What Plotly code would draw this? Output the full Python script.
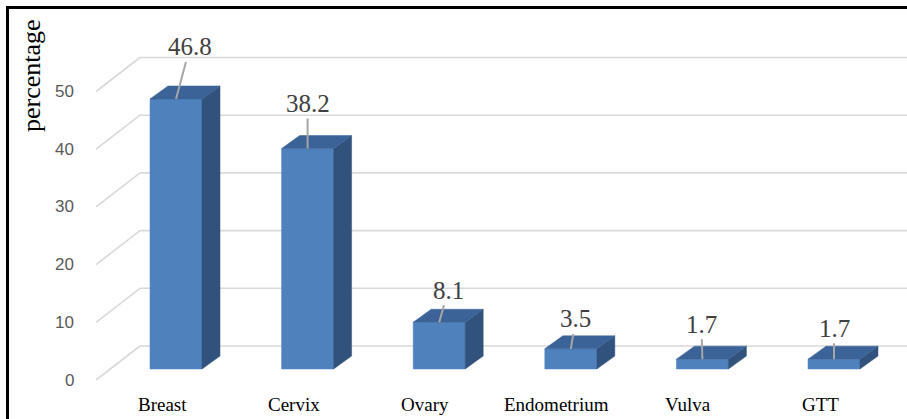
import plotly.graph_objects as go

# ---- data ----
categories = ["Breast", "Cervix", "Ovary", "Endometrium", "Vulva", "GTT"]
values = [46.8, 38.2, 8.1, 3.5, 1.7, 1.7]
y_ticks = [0, 10, 20, 30, 40, 50]
label_text = ["46.8", "38.2", "8.1", "3.5", "1.7", "1.7"]

# ---- style / geometry (pixel-derived) ----
W, H = 907, 419
px_per_unit_y = 5.77
px_per_cat = 131.6
zero_px = 369.0
first_cat_px = 176.0
x_range = [-first_cat_px / px_per_cat, (W - first_cat_px) / px_per_cat]
y_range = [-(H - zero_px) / px_per_unit_y, zero_px / px_per_unit_y]

bar_w = 52 / px_per_cat
depth_dx = 18 / px_per_cat
depth_dy = 13 / px_per_unit_y
wall_dx = (140 - 176) / px_per_cat   # back wall left edge
wall_dy = 23 / px_per_unit_y
front_dx = (96 - 176) / px_per_cat   # front-left floor edge
front_dy = -11 / px_per_unit_y
cat_label_dx = -14 / px_per_cat
cat_label_y = -(404 - zero_px) / px_per_unit_y

front_col = "#4f81bd"
top_col = "#3b6397"
side_col = "#30527d"
grid_col = "#d9d9d9"

# label offsets (pixels) for the data labels with leader lines
lab_ax = [14, 0, 9, 5, -1, 0]
lab_ay = [-52, -45, -32, -30, -35, -31]

fig = go.Figure()

# back wall gridlines + left diagonals
gx, gy = [], []
for t in y_ticks:
    gx += [wall_dx, x_range[1] + 1, None]
    gy += [t + wall_dy, t + wall_dy, None]
    gx += [front_dx, wall_dx, None]
    gy += [t + front_dy, t + wall_dy, None]
fig.add_trace(go.Scatter(x=gx, y=gy, mode="lines",
                         line=dict(color=grid_col, width=1.6),
                         hoverinfo="skip", showlegend=False))

# 3-D bars: front, side and top faces
for i, v in enumerate(values):
    r = i + bar_w / 2
    l = i - bar_w / 2
    fig.add_trace(go.Scatter(
        x=[l, r, r, l, l], y=[0, 0, v, v, 0],
        fill="toself", fillcolor=front_col, mode="lines",
        line=dict(color=front_col, width=0.5),
        hoverinfo="skip", showlegend=False))
    fig.add_trace(go.Scatter(
        x=[r, r + depth_dx, r + depth_dx, r, r],
        y=[0, depth_dy, v + depth_dy, v, 0],
        fill="toself", fillcolor=side_col, mode="lines",
        line=dict(color=side_col, width=0.5),
        hoverinfo="skip", showlegend=False))
    fig.add_trace(go.Scatter(
        x=[l, l + depth_dx, r + depth_dx, r, l],
        y=[v, v + depth_dy, v + depth_dy, v, v],
        fill="toself", fillcolor=top_col, mode="lines",
        line=dict(color=top_col, width=0.5),
        hoverinfo="skip", showlegend=False))

annotations = []
# data labels with leader lines
for i, v in enumerate(values):
    annotations.append(dict(
        x=i, y=v, xref="x", yref="y", text=label_text[i],
        showarrow=True, arrowhead=0, arrowwidth=2, arrowcolor="#a6a6a6",
        ax=lab_ax[i], ay=lab_ay[i], standoff=0, startstandoff=0,
        font=dict(family="Liberation Serif", size=25, color="#404040")))

# y tick labels
for t in y_ticks:
    annotations.append(dict(
        x=front_dx, y=t + front_dy, xref="x", yref="y", text=str(t),
        showarrow=False, xanchor="right", yanchor="middle", xshift=-20,
        font=dict(family="Liberation Sans", size=17, color="#595959")))

# category labels
for i, c in enumerate(categories):
    annotations.append(dict(
        x=i + cat_label_dx, y=cat_label_y, xref="x", yref="y", text=c,
        showarrow=False, xanchor="center", yanchor="middle",
        font=dict(family="Liberation Serif", size=19, color="#000000")))

# axis title
annotations.append(dict(
    x=31 / W, y=1 - 76 / H, xref="paper", yref="paper", text="percentage",
    showarrow=False, textangle=-90, xanchor="center", yanchor="middle",
    font=dict(family="Liberation Serif", size=26, color="#000000")))

fig.update_layout(
    width=W, height=H,
    margin=dict(l=0, r=0, t=0, b=0),
    paper_bgcolor="white", plot_bgcolor="white",
    xaxis=dict(range=x_range, visible=False, fixedrange=True),
    yaxis=dict(range=y_range, visible=False, fixedrange=True),
    annotations=annotations,
    shapes=[dict(type="rect", xref="paper", yref="paper",
                 x0=7.5 / W, x1=1.05, y0=-0.05, y1=1 - 7.5 / H,
                 line=dict(color="black", width=3), layer="above")],
    showlegend=False,
)

fig.write_html("out.html")
